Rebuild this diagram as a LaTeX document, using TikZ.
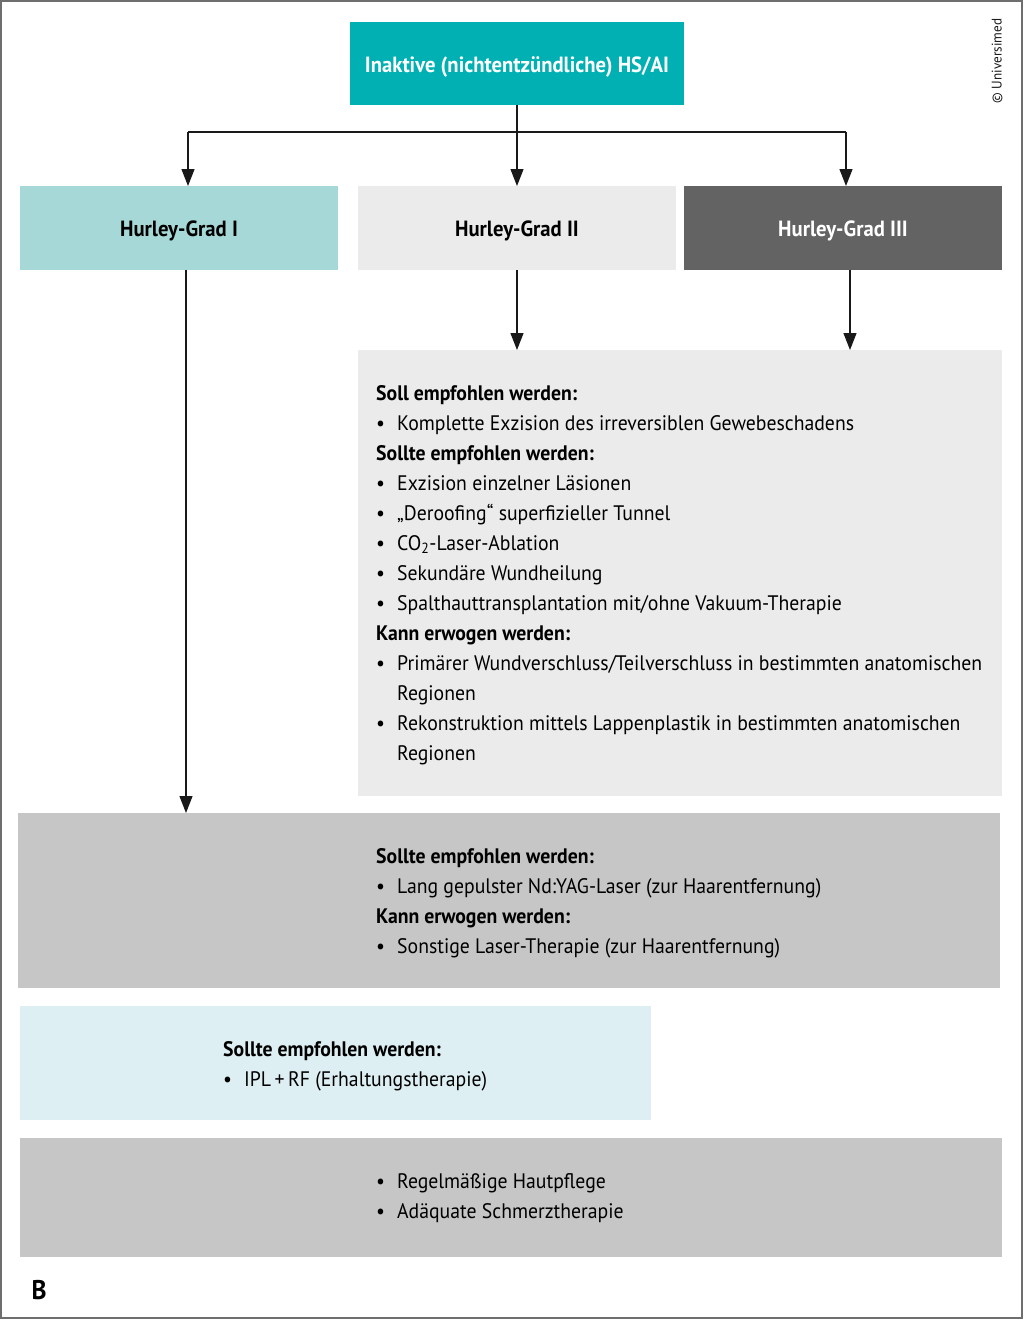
\documentclass[tikz,border=0pt]{standalone}
\usepackage{fontspec}
\setmainfont{PT Sans}[FakeStretch=0.94]
\usetikzlibrary{arrows.meta}
\definecolor{teal1}{RGB}{0,176,178}
\definecolor{cyanlt}{RGB}{166,216,216}
\definecolor{graylt}{RGB}{235,235,235}
\definecolor{graydk}{RGB}{99,99,99}
\definecolor{graymd}{RGB}{198,198,198}
\definecolor{bluelt}{RGB}{221,239,242}
\definecolor{framegray}{RGB}{110,110,110}
\newcommand{\bl}{\makebox[21pt][l]{\hspace{0pt}•}}
\newcommand{\ind}{\hspace*{21pt}}
\begin{document}
\begin{tikzpicture}[x=1pt,y=-1pt,
  box/.style={draw=none, inner sep=0pt, outer sep=0pt, anchor=north west},
  title/.style={font=\fontsize{22}{26}\selectfont\bfseries},
  body/.style={inner sep=0pt, anchor=west, align=left, font=\fontsize{21}{30}\selectfont},
  conn/.style={draw=black!90, line width=1.2pt, -{Triangle[length=17pt,width=13pt]}},
  seg/.style={draw=black!90, line width=1.2pt}]
\useasboundingbox (0,0) rectangle (1024,1322);
\draw[framegray, line width=2pt] (1,1) rectangle (1022,1318);
% top
\node[box, fill=teal1, minimum width=334pt, minimum height=83pt] (top) at (350,22) {};
\node[title, text=white] (toptxt) at ([yshift=-3pt]top.center) {Inaktive (nichtentzündliche) HS/AI};
% Hurley boxes
\node[box, fill=cyanlt, minimum width=318pt, minimum height=84pt] (h1) at (20,186) {};
\node[box, fill=graylt, minimum width=318pt, minimum height=84pt] (h2) at (358,186) {};
\node[box, fill=graydk, minimum width=318pt, minimum height=84pt] (h3) at (684,186) {};
\node[title] at ([yshift=-3pt]h1.center) {Hurley-Grad I};
\node[title] at ([yshift=-3pt]h2.center) {Hurley-Grad II};
\node[title, text=white] at ([yshift=-3pt]h3.center) {Hurley-Grad III};
% connectors top
\coordinate (jl) at (188,132);
\coordinate (jr) at (846,132);
\draw[conn] (top.south) -- (h2.north);
\draw[seg] (jl) -- (jr);
\draw[conn] (jl) -- (h1.north -| jl);
\draw[conn] (jr) -- (h3.north -| jr);
% big box II/III
\node[box, fill=graylt, minimum width=644pt, minimum height=446pt] (b23) at (358,350) {};
\coordinate (c3) at (850,0);
\draw[conn] (h2.south) -- (b23.north -| h2.south);
\draw[conn] (h3.south -| c3) -- (b23.north -| c3);
\node[body] (t23) at (376,575) {\textbf{Soll empfohlen werden:}\\
\bl Komplette Exzision des irreversiblen Gewebeschadens\\
\textbf{Sollte empfohlen werden:}\\
\bl Exzision einzelner Läsionen\\
\bl „Deroofing“ superfizieller Tunnel\\
\bl CO\textsubscript{2}-Laser-Ablation\\
\bl Sekundäre Wundheilung\\
\bl Spalthauttransplantation mit/ohne Vakuum-Therapie\\
\textbf{Kann erwogen werden:}\\
\bl Primärer Wundverschluss/Teilverschluss in bestimmten anatomischen\\
\ind Regionen\\
\bl Rekonstruktion mittels Lappenplastik in bestimmten anatomischen\\
\ind Regionen};
% all box
\node[box, fill=graymd, minimum width=982pt, minimum height=175pt] (ball) at (18,813) {};
\coordinate (c1) at (186,0);
\draw[conn] (h1.south -| c1) -- (ball.north -| c1);
\node[body] (tall) at (376,903) {\textbf{Sollte empfohlen werden:}\\
\bl Lang gepulster Nd:YAG-Laser (zur Haarentfernung)\\
\textbf{Kann erwogen werden:}\\
\bl Sonstige Laser-Therapie (zur Haarentfernung)};
% IPL box
\node[box, fill=bluelt, minimum width=631pt, minimum height=114pt] (bipl) at (20,1006) {};
\node[body] (tipl) at (223,1066) {\textbf{Sollte empfohlen werden:}\\
\bl IPL\,+\,RF (Erhaltungstherapie)};
% bottom box
\node[box, fill=graymd, minimum width=982pt, minimum height=119pt] (bbot) at (20,1138) {};
\node[body] (tbot) at (376,1198) {\bl Regelmäßige Hautpflege\\
\bl Adäquate Schmerztherapie};
% label B
\node[font=\fontsize{27}{30}\selectfont\bfseries, inner sep=0pt] (lab) at (39,1290) {B};
% copyright
\node[rotate=90, font=\fontsize{14}{16}\selectfont, text=black!90, inner sep=0pt] (copy) at (997,61) {© Universimed};
\end{tikzpicture}
\end{document}
